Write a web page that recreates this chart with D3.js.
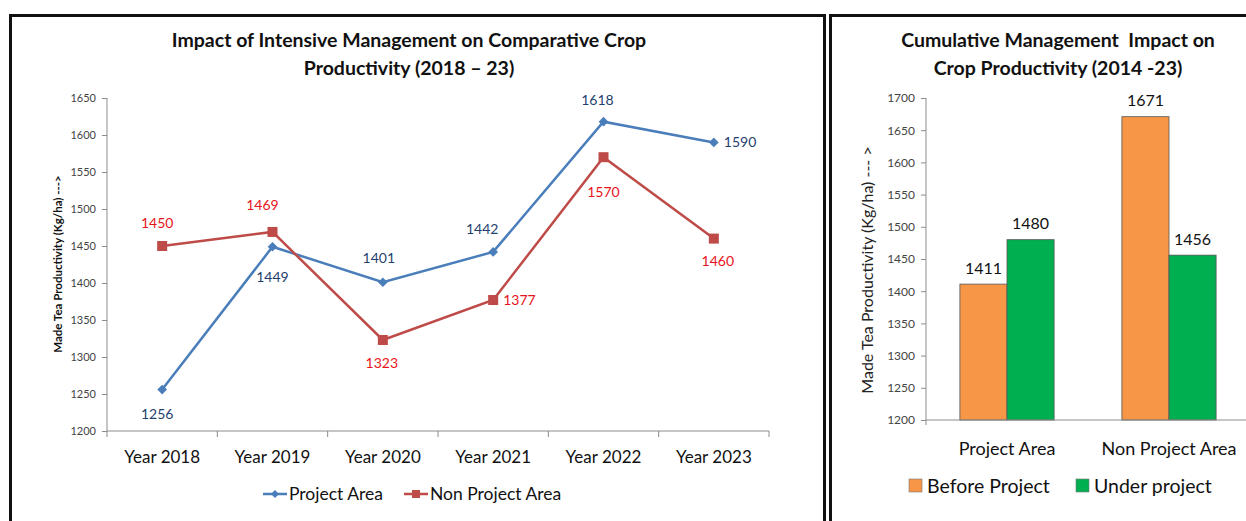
<!DOCTYPE html>
<html>
<head>
<meta charset="utf-8">
<script src="https://cdn.jsdelivr.net/npm/d3@7"></script>
<style>
  html, body { margin: 0; padding: 0; background: #fff; }
  svg { display: block; }
  text { font-family: Lato, "Open Sans", "DejaVu Sans", sans-serif; }
</style>
</head>
<body>
<svg id="chart" width="1246" height="521"></svg>
<script>
// ---------- data ----------
const years = ["Year 2018", "Year 2019", "Year 2020", "Year 2021", "Year 2022", "Year 2023"];
const projectArea = [1256, 1449, 1401, 1442, 1618, 1590];
const nonProjectArea = [1450, 1469, 1323, 1377, 1570, 1460];
const lineTicks = [1200, 1250, 1300, 1350, 1400, 1450, 1500, 1550, 1600, 1650];

const areas = ["Project Area", "Non Project Area"];
const beforeProject = [1411, 1671];
const underProject = [1480, 1456];
const barTicks = [1200, 1250, 1300, 1350, 1400, 1450, 1500, 1550, 1600, 1650, 1700];

// label placement (style only)
const blueLabelOffsets = [[-5, 25], [0, 30], [-4, -24], [-11, -23], [-6, -22], [10, 0]];
const redLabelOffsets = [[-5, -23], [-10, -27], [-1, 23], [10, 0], [0, 35], [4, 22]];

const svg = d3.select("#chart");

// ---------- panel borders ----------
svg.append("path").attr("d", "M10.5,525 V15.5 H824.5 V525")
  .attr("fill", "none").attr("stroke", "#111").attr("stroke-width", 3);
svg.append("path").attr("d", "M830.5,525 V15.5 H1250")
  .attr("fill", "none").attr("stroke", "#111").attr("stroke-width", 3);

const axisColor = "#8c8c8c";

// ================= LEFT: line chart =================
const L = svg.append("g");
const xL = d3.scaleBand().domain(years).range([107, 769]);
const yL = d3.scaleLinear().domain([1200, 1650]).range([431, 98]);
const cx = d => xL(d) + xL.bandwidth() / 2;

L.append("text").attr("x", 409).attr("y", 47).attr("text-anchor", "middle")
  .attr("font-weight", "bold").attr("font-size", 19.5).attr("fill", "#111")
  .text("Impact of Intensive Management on Comparative Crop");
L.append("text").attr("x", 409).attr("y", 75).attr("text-anchor", "middle")
  .attr("font-weight", "bold").attr("font-size", 19.5).attr("fill", "#111")
  .text("Productivity (2018 \u2013 23)");

// y axis
const yAxisL = d3.axisLeft(yL).tickValues(lineTicks).tickSize(5).tickPadding(6).tickFormat(d3.format("d"));
const gyL = L.append("g").attr("transform", "translate(107,0)").call(yAxisL);
gyL.select(".domain").attr("stroke", axisColor).attr("d", "M0,98V431");
gyL.selectAll(".tick line").attr("stroke", axisColor);
gyL.selectAll(".tick text").attr("font-size", 11).attr("fill", "#444")
  .attr("font-family", "'Liberation Sans Narrow', 'DejaVu Sans Condensed', sans-serif");

// x axis
const xAxisL = d3.axisBottom(xL).tickSize(0).tickPadding(20);
const gxL = L.append("g").attr("transform", "translate(0,431)").call(xAxisL);
gxL.select(".domain").attr("stroke", axisColor).attr("d", "M107,0H769");
gxL.selectAll(".tick text").attr("font-size", 17).attr("fill", "#111");
L.append("g").selectAll("line").data(years.concat(["end"])).join("line")
  .attr("x1", (d, i) => i < years.length ? xL(d) : xL.range()[1])
  .attr("x2", (d, i) => i < years.length ? xL(d) : xL.range()[1])
  .attr("y1", 431).attr("y2", 437).attr("stroke", axisColor);

// y label
L.append("text").attr("transform", "translate(62,264) rotate(-90)")
  .attr("text-anchor", "middle").attr("font-weight", "bold").attr("font-size", 11.5)
  .attr("fill", "#111").text("Made Tea Productivity (Kg/ha) --->");

const blue = "#4A7EBB", red = "#BE4B48";
const line = d3.line().x((d, i) => cx(years[i])).y(d => yL(d));

L.append("path").datum(projectArea).attr("d", line)
  .attr("fill", "none").attr("stroke", blue).attr("stroke-width", 2.5);
L.append("path").datum(nonProjectArea).attr("d", line)
  .attr("fill", "none").attr("stroke", red).attr("stroke-width", 2.5);

const diamond = d3.symbol().type(d3.symbolDiamond2).size(60);
L.append("g").selectAll("path").data(projectArea).join("path")
  .attr("d", diamond).attr("fill", blue)
  .attr("transform", (d, i) => `translate(${cx(years[i])},${yL(d)})`);
L.append("g").selectAll("rect").data(nonProjectArea).join("rect")
  .attr("x", (d, i) => cx(years[i]) - 5).attr("y", d => yL(d) - 5)
  .attr("width", 10).attr("height", 10).attr("fill", red);

function lineLabels(values, offsets, color) {
  L.append("g").selectAll("text").data(values).join("text")
    .attr("x", (d, i) => cx(years[i]) + offsets[i][0])
    .attr("y", (d, i) => yL(d) + offsets[i][1])
    .attr("dy", "0.35em")
    .attr("text-anchor", (d, i) => offsets[i][0] >= 10 ? "start" : "middle")
    .attr("font-size", 14).attr("fill", color).text(d => d);
}
lineLabels(projectArea, blueLabelOffsets, "#1F3F6E");
lineLabels(nonProjectArea, redLabelOffsets, "#E8141B");

// legend left
const lg = L.append("g");
lg.append("line").attr("x1", 263).attr("x2", 287).attr("y1", 494).attr("y2", 494)
  .attr("stroke", blue).attr("stroke-width", 2.5);
lg.append("path").attr("d", d3.symbol().type(d3.symbolDiamond2).size(40))
  .attr("transform", "translate(275,494)").attr("fill", blue);
lg.append("text").attr("x", 289).attr("y", 494).attr("dy", "0.35em")
  .attr("font-size", 17.5).attr("fill", "#111").text("Project Area");
lg.append("line").attr("x1", 404).attr("x2", 428).attr("y1", 494).attr("y2", 494)
  .attr("stroke", red).attr("stroke-width", 2.5);
lg.append("rect").attr("x", 412).attr("y", 490).attr("width", 8).attr("height", 8).attr("fill", red);
lg.append("text").attr("x", 430).attr("y", 494).attr("dy", "0.35em")
  .attr("font-size", 17.5).attr("fill", "#111").text("Non Project Area");

// ================= RIGHT: bar chart =================
const R = svg.append("g");
const xR = d3.scaleBand().domain(areas).range([926, 1250]);
const series = ["Before Project", "Under project"];
const xIn = d3.scaleBand().domain(series).range([0, xR.bandwidth()]).paddingOuter(0.72);
const yR = d3.scaleLinear().domain([1200, 1700]).range([420, 98]);
const colors = { "Before Project": "#F79646", "Under project": "#00B050" };

R.append("text").attr("x", 1058).attr("y", 47).attr("text-anchor", "middle")
  .attr("font-weight", "bold").attr("font-size", 19.5).attr("fill", "#111")
  .style("white-space", "pre").text("Cumulative Management  Impact on");
R.append("text").attr("x", 1058).attr("y", 75).attr("text-anchor", "middle")
  .attr("font-weight", "bold").attr("font-size", 19.5).attr("fill", "#111")
  .text("Crop Productivity (2014 -23)");

const yAxisR = d3.axisLeft(yR).tickValues(barTicks).tickSize(5).tickPadding(6).tickFormat(d3.format("d"));
const gyR = R.append("g").attr("transform", "translate(926,0)").call(yAxisR);
gyR.select(".domain").attr("stroke", axisColor).attr("d", "M0,98V425");
gyR.selectAll(".tick line").attr("stroke", axisColor);
gyR.selectAll(".tick text").attr("font-size", 12).attr("fill", "#444")
  .attr("font-family", "'Liberation Sans Narrow', 'DejaVu Sans Condensed', sans-serif");

const barData = areas.flatMap((a, i) => [
  { area: a, s: series[0], v: beforeProject[i] },
  { area: a, s: series[1], v: underProject[i] }
]);
R.append("g").selectAll("rect").data(barData).join("rect")
  .attr("x", d => xR(d.area) + xIn(d.s)).attr("width", xIn.bandwidth())
  .attr("y", d => yR(d.v)).attr("height", d => yR(1200) - yR(d.v))
  .attr("fill", d => colors[d.s]).attr("stroke", "#555").attr("stroke-width", 0.8);
R.append("g").selectAll("text").data(barData).join("text")
  .attr("x", d => xR(d.area) + xIn(d.s) + xIn.bandwidth() / 2)
  .attr("y", d => yR(d.v) - 16).attr("dy", "0.35em").attr("text-anchor", "middle")
  .attr("font-size", 16).attr("fill", "#111").text(d => d.v);

const xAxisR = d3.axisBottom(xR).tickSize(0).tickPadding(22);
const gxR = R.append("g").attr("transform", "translate(0,420)").call(xAxisR);
gxR.select(".domain").attr("stroke", axisColor).attr("d", "M926,0H1250");
gxR.selectAll(".tick text").attr("font-size", 18).attr("fill", "#111");

R.append("text").attr("transform", "translate(873,270) rotate(-90)")
  .attr("text-anchor", "middle").attr("font-size", 16).attr("fill", "#222")
  .text("Made Tea Productivity (Kg/ha) --- >");

// legend right
const lgR = R.append("g");
const legX = [909, 1076];
series.forEach((s, i) => {
  lgR.append("rect").attr("x", legX[i]).attr("y", 479).attr("width", 13).attr("height", 13)
    .attr("fill", colors[s]).attr("stroke", "#777").attr("stroke-width", 0.6);
  lgR.append("text").attr("x", legX[i] + 18).attr("y", 486).attr("dy", "0.35em")
    .attr("font-size", 19.5).attr("fill", "#111").text(s);
});
</script>
</body>
</html>
